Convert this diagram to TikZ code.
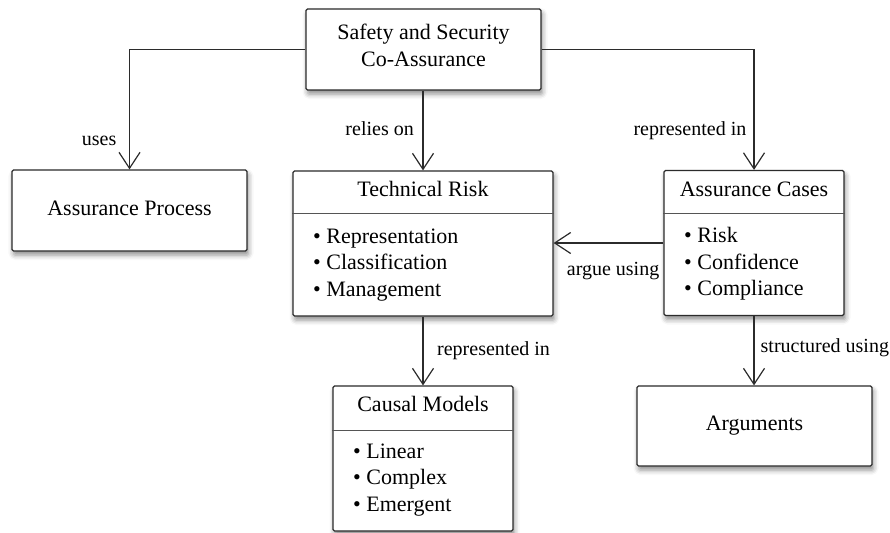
\documentclass[tikz,border=0pt]{standalone}
\usepackage{fontspec}
\setmainfont{Liberation Serif}
\usetikzlibrary{arrows.meta,shadows.blur}

\definecolor{edge}{HTML}{2B2B2B}
\definecolor{rule}{HTML}{555555}

\tikzset{
  box/.style={draw=edge, line width=1.2pt, fill=white, rounded corners=1.5pt,
    inner sep=0pt,
    blur shadow={shadow xshift=1.5pt, shadow yshift=-4pt,
      shadow blur radius=5pt, shadow opacity=45}},
  ttl/.style={font=\fontsize{22}{27}\selectfont, inner sep=0pt, anchor=base},
  item/.style={font=\fontsize{22}{27}\selectfont, inner sep=0pt, anchor=base west},
  lbl/.style={font=\fontsize{20}{24}\selectfont, inner sep=0pt},
  divider/.style={draw=rule, line width=0.9pt},
  conn/.style={draw=edge, line width=1.2pt,
    -{Straight Barb[length=16pt,width=21pt,line width=1.2pt]}},
}

\begin{document}
\begin{tikzpicture}[x=1pt,y=-1pt]
\useasboundingbox (0,0) rectangle (890,532);

% boxes
\node[box, minimum width=235pt, minimum height=81pt]  (top)    at (423.5,49.5)  {};
\node[box, minimum width=235pt, minimum height=81pt]  (proc)   at (129.5,210.5) {};
\node[box, minimum width=260pt, minimum height=145pt] (risk)   at (423,243.5)   {};
\node[box, minimum width=180pt, minimum height=145pt] (cases)  at (754,243)     {};
\node[box, minimum width=180pt, minimum height=145pt] (causal) at (423,458.5)   {};
\node[box, minimum width=235pt, minimum height=80pt]  (args)   at (754.5,426)   {};

% compartment dividers
\coordinate (divA) at (0,213);
\coordinate (divB) at (0,430);
\draw[divider] (risk.west |- divA) -- (risk.east |- divA);
\draw[divider] (cases.west |- divA) -- (cases.east |- divA);
\draw[divider] (causal.west |- divB) -- (causal.east |- divB);

% box texts
\node[ttl] (top-a) at (423.5,39.3) {Safety and Security};
\node[ttl] (top-b) at (423.5,66.5) {Co-Assurance};
\node[ttl] (proc-t) at (129.5,215) {Assurance Process};
\node[ttl] (args-t) at (754.5,430.7) {Arguments};

\node[ttl] (risk-t) at (423,196) {Technical Risk};
\node[item] (risk-1) at (313,243) {\textbullet\ Representation};
\node[item] (risk-2) at (313,269.5) {\textbullet\ Classification};
\node[item] (risk-3) at (313,296) {\textbullet\ Management};

\node[ttl] (cases-t) at (754,196) {Assurance Cases};
\node[item] (cases-1) at (684,242.5) {\textbullet\ Risk};
\node[item] (cases-2) at (684,269) {\textbullet\ Confidence};
\node[item] (cases-3) at (684,295.5) {\textbullet\ Compliance};

\node[ttl] (causal-t) at (423,411.7) {Causal Models};
\node[item] (causal-1) at (353,458) {\textbullet\ Linear};
\node[item] (causal-2) at (353,484.5) {\textbullet\ Complex};
\node[item] (causal-3) at (353,511) {\textbullet\ Emergent};

% connectors
\draw[conn] (top.west) -| (proc.north);
\draw[conn] (top.east) -| (cases.north);
\draw[conn] (top.south -| risk.north) -- (risk.north);
\draw[conn] (cases.west) -- (cases.west -| risk.east);
\draw[conn] (risk.south) -- (causal.north);
\draw[conn] (cases.south) -- (cases.south |- args.north);

% connector labels
\node[lbl, anchor=base east] (l-uses)   at (116.5,145) {uses};
\node[lbl, anchor=base east] (l-relies) at (414,135) {relies on};
\node[lbl, anchor=base east] (l-repA)   at (746.5,135) {represented in};
\node[lbl, anchor=base east] (l-argue)  at (659.5,275) {argue using};
\node[lbl, anchor=base west] (l-repB)   at (437,355) {represented in};
\node[lbl, anchor=base west] (l-struct) at (760.5,352) {structured using};
\end{tikzpicture}
\end{document}
